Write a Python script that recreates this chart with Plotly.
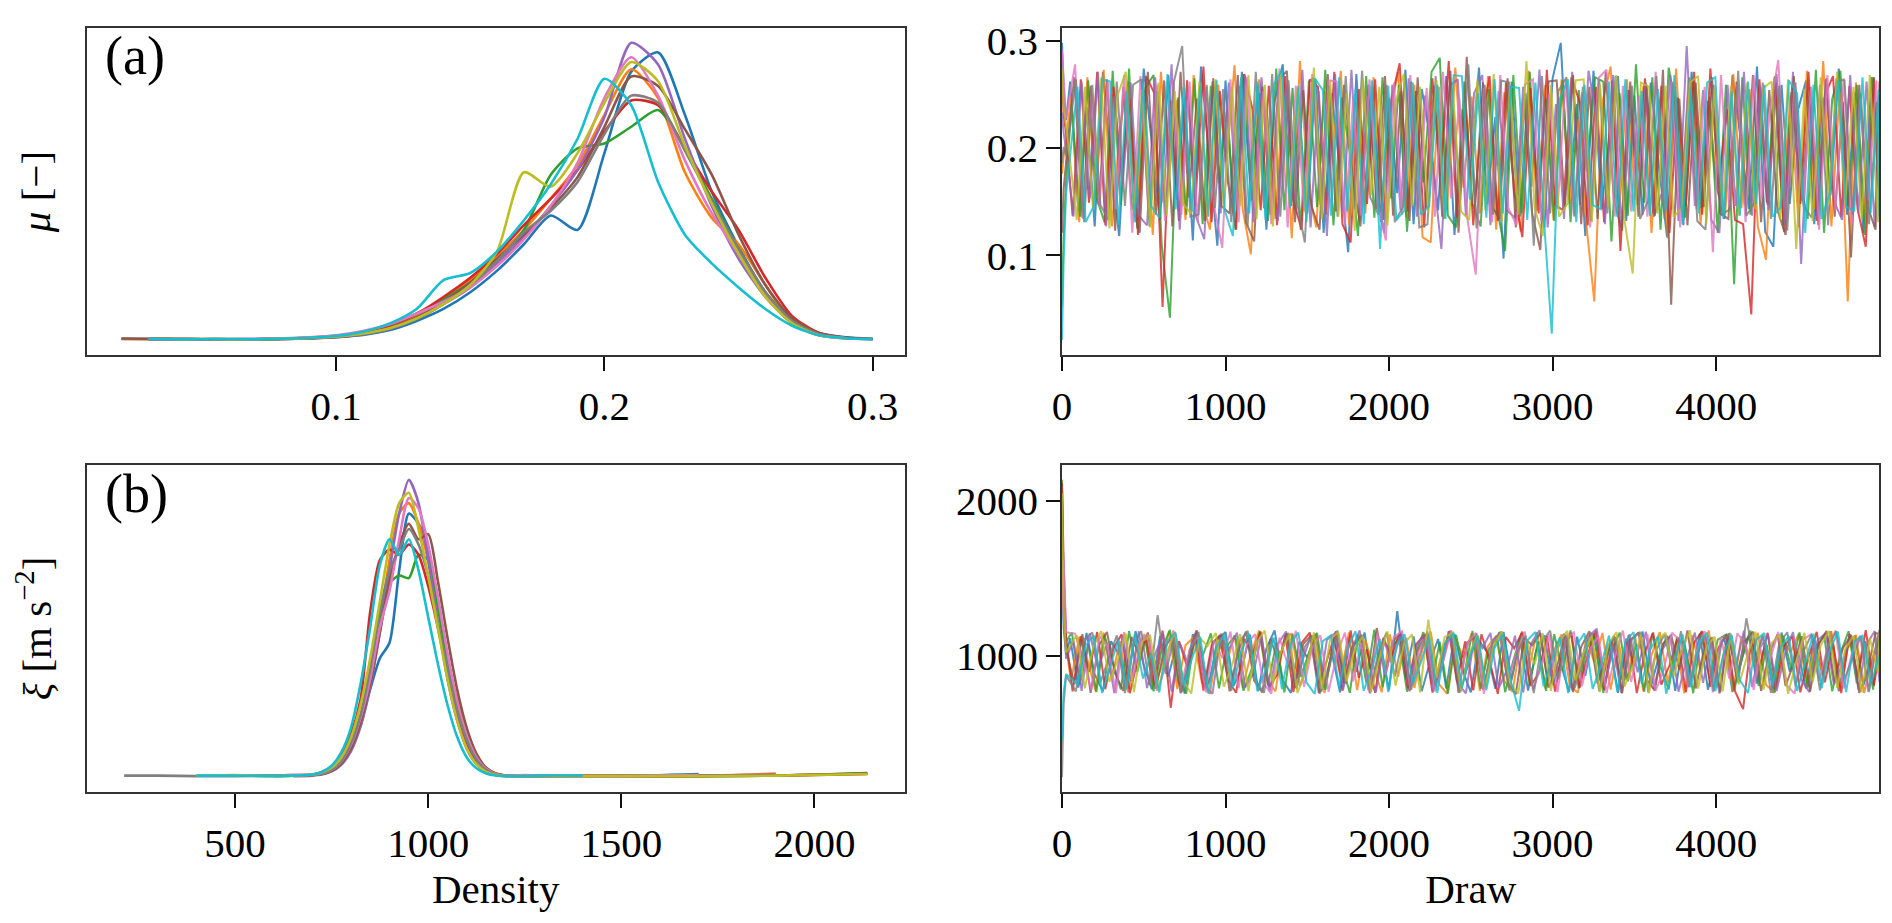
import plotly.graph_objects as go

# tab10 colours, one per chain
colors = ['#1f77b4', '#ff7f0e', '#2ca02c', '#d62728', '#9467bd',
          '#8c564b', '#e377c2', '#7f7f7f', '#bcbd22', '#17becf']

# the thinned read of each chain: draws 0, 10, 25, then every 50th draw
# (each chain read with its own small offset), then the final draw
start_draws = [0, 10, 25]
read_offset = [0, 5, 10, 15, 20, 25, 30, 35, 40, 45]
last_draw = 4999


def chain_draws(off):
    return start_draws + list(range(50 + off, 5000, 50))[:99] + [last_draw]


# ---- mu traces ----
mu_c0 = [.298, .255, .226,
         .262, .141, .238, .127, .271, .183, .118, .256, .149, .274,
         .205, .133, .268, .152, .247, .114, .276, .194, .109, .263,
         .137, .271, .168, .259, .124, .243, .278, .146, .232, .139,
         .264, .121, .251, .177, .103, .269, .145, .258, .131, .246,
         .158, .273, .129, .255, .211, .142, .267, .119, .236, .181,
         .275, .148, .229, .097, .262, .136, .254, .171, .126, .265,
         .298, .154, .241, .118, .272, .143, .214, .267, .132, .249,
         .138, .261, .183, .117, .257, .128, .271, .152, .244, .166,
         .134, .268, .209, .143, .276, .122, .108, .259, .148, .235,
         .263, .129, .247, .156, .274, .138, .252, .121, .266, .182]
mu_c1 = [.176, .192, .207,
         .248, .131, .266, .152, .273, .127, .219, .262, .139, .254,
         .119, .271, .174, .245, .133, .268, .151, .124, .259, .187,
         .277, .143, .101, .264, .228, .134, .258, .116, .281, .162,
         .126, .253, .197, .272, .128, .244, .139, .266, .148, .231,
         .271, .135, .259, .117, .112, .257, .142, .275, .163, .248,
         .139, .267, .124, .252, .179, .122, .272, .141, .259, .133,
         .264, .148, .227, .131, .057, .243, .276, .137, .264, .152,
         .258, .121, .246, .116, .274, .153, .262, .129, .238, .171,
         .138, .269, .144, .255, .127, .096, .266, .149, .249, .126,
         .272, .143, .281, .127, .253, .057, .261, .138, .245, .159]
mu_c2 = [.052, .118, .169,
         .241, .136, .263, .154, .131, .272, .147, .274, .125, .256,
         .268, .109, .042, .247, .138, .265, .129, .258, .167, .236,
         .124, .269, .151, .251, .132, .274, .142, .256, .124, .263,
         .145, .273, .128, .247, .195, .118, .267, .135, .266, .153,
         .259, .122, .241, .168, .271, .284, .137, .126, .262, .148,
         .127, .255, .143, .104, .268, .139, .271, .156, .246, .132,
         .263, .131, .254, .178, .266, .262, .113, .251, .137, .278,
         .149, .266, .124, .275, .232, .135, .263, .144, .248, .121,
         .259, .073, .266, .138, .257, .149, .267, .128, .252, .171,
         .134, .273, .121, .246, .272, .143, .259, .119, .266, .147]
mu_c3 = [.265, .231, .214,
         .137, .264, .149, .271, .128, .257, .173, .246, .119, .267,
         .251, .052, .244, .132, .263, .146, .276, .131, .253, .168,
         .124, .269, .236, .142, .258, .128, .267, .151, .124, .264,
         .257, .138, .271, .129, .112, .255, .148, .264, .133, .246,
         .279, .141, .253, .126, .265, .174, .281, .135, .248, .128,
         .224, .267, .132, .261, .158, .117, .256, .139, .273, .147,
         .142, .266, .243, .128, .257, .131, .263, .104, .254, .172,
         .265, .139, .258, .121, .247, .146, .271, .138, .274, .163,
         .236, .133, .129, .045, .264, .147, .261, .122, .259, .148,
         .271, .132, .249, .267, .136, .258, .143, .108, .266, .154]
mu_c4 = [.233, .214, .198,
         .136, .262, .153, .271, .127, .248, .164, .261, .137, .128,
         .266, .149, .278, .124, .253, .136, .115, .262, .139, .261,
         .148, .267, .131, .266, .174, .132, .257, .142, .273, .126,
         .253, .118, .269, .141, .273, .132, .254, .166, .121, .259,
         .142, .265, .136, .249, .179, .106, .258, .264, .137, .251,
         .268, .128, .253, .142, .135, .257, .164, .273, .126, .241,
         .134, .271, .147, .272, .228, .129, .268, .125, .253, .147,
         .261, .136, .159, .268, .132, .295, .146, .254, .133, .121,
         .259, .146, .271, .137, .257, .142, .269, .128, .271, .092,
         .249, .134, .264, .151, .133, .268, .139, .262, .126, .247]
mu_c5 = [.121, .162, .187,
         .266, .135, .258, .147, .264, .123, .257, .149, .121, .271,
         .138, .263, .127, .271, .154, .246, .132, .265, .146, .139,
         .268, .131, .113, .257, .138, .263, .272, .131, .254, .146,
         .124, .269, .141, .259, .173, .127, .259, .143, .267, .137,
         .253, .132, .266, .144, .258, .136, .272, .121, .285, .146,
         .261, .147, .134, .265, .126, .248, .139, .105, .262, .263,
         .145, .268, .129, .257, .134, .271, .151, .123, .262, .136,
         .259, .137, .273, .054, .246, .128, .261, .145, .266, .139,
         .134, .262, .147, .268, .131, .254, .142, .119, .267, .151,
         .257, .128, .265, .136, .243, .098, .259, .146, .124, .262]
mu_c6 = [.291, .262, .228,
         .278, .134, .249, .146, .262, .143, .268, .121, .267, .136,
         .259, .132, .263, .138, .262, .131, .257, .146, .107, .264,
         .131, .266, .145, .253, .129, .274, .126, .258, .141, .269,
         .147, .263, .262, .128, .245, .137, .264, .149, .114, .261,
         .138, .268, .143, .256, .136, .271, .153, .246, .133, .082,
         .256, .131, .268, .144, .128, .259, .264, .132, .251, .143,
         .264, .137, .252, .126, .265, .273, .136, .258, .141, .249,
         .136, .271, .148, .262, .126, .263, .143, .257, .103, .268,
         .145, .259, .131, .268, .153, .236, .282, .134, .261, .149,
         .257, .124, .268, .142, .265, .129, .246, .151, .263, .134]
mu_c7 = [.186, .201, .193,
         .264, .131, .259, .147, .133, .262, .146, .259, .264, .127,
         .253, .138, .262, .295, .136, .138, .259, .144, .255, .131,
         .258, .127, .271, .144, .269, .136, .263, .151, .112, .266,
         .139, .258, .136, .267, .143, .272, .154, .138, .259, .131,
         .145, .262, .126, .129, .267, .134, .254, .151, .278, .125,
         .259, .138, .263, .261, .148, .251, .109, .267, .139, .253,
         .266, .136, .257, .132, .264, .139, .267, .143, .258, .134,
         .151, .267, .134, .261, .143, .266, .132, .124, .259, .138,
         .143, .272, .137, .149, .261, .134, .258, .123, .261, .146,
         .135, .259, .128, .264, .263, .138, .251, .129, .243, .142]
mu_c8 = [.274, .238, .221,
         .133, .257, .142, .266, .125, .249, .271, .138, .254, .126,
         .261, .137, .253, .148, .139, .262, .136, .264, .143, .257,
         .146, .268, .134, .259, .127, .271, .148, .256, .139, .275,
         .134, .263, .136, .251, .123, .264, .156, .257, .128, .243,
         .269, .146, .257, .139, .263, .135, .256, .141, .133, .264,
         .142, .269, .131, .256, .138, .281, .144, .118, .259, .136,
         .148, .263, .264, .131, .259, .145, .268, .132, .083, .261,
         .257, .139, .258, .136, .144, .261, .267, .129, .255, .146,
         .258, .137, .261, .143, .256, .262, .133, .264, .106, .255,
         .132, .266, .148, .271, .149, .257, .133, .268, .131, .245]
mu_c9 = [.021, .095, .158,
         .257, .131, .146, .264, .262, .128, .253, .131, .261, .146,
         .135, .269, .143, .257, .141, .258, .136, .263, .142, .118,
         .266, .139, .262, .133, .259, .273, .144, .258, .131, .265,
         .254, .137, .266, .141, .255, .129, .263, .106, .258, .133,
         .142, .261, .138, .146, .259, .134, .268, .267, .152, .251,
         .135, .264, .139, .257, .256, .133, .261, .138, .027, .246,
         .264, .131, .259, .147, .143, .262, .136, .264, .141, .253,
         .137, .255, .142, .268, .129, .256, .139, .261, .266, .134,
         .253, .137, .262, .148, .259, .136, .145, .263, .251, .121,
         .259, .134, .158, .263, .145, .142, .266, .139, .254, .136]

# ---- xi traces ----
xi_c0 = [1670, 1180, 1010,
         1112, 793, 1146, 878, 768, 1093, 1004, 812, 1158, 936,
         781, 1127, 862, 1071, 754, 1138, 967, 823, 1101, 1152,
         806, 921, 1134, 772, 1047, 1163, 839, 758, 1089, 983,
         1141, 797, 1016, 762, 1119, 894, 1150, 817, 1062, 776,
         1287, 853, 1124, 769, 958, 1107, 788, 1139, 904, 761,
         1097, 1022, 784, 1153, 846, 1114, 773, 1036, 1131, 812,
         947, 766, 1122, 869, 1148, 795, 1073, 758, 1109, 931,
         1156, 802, 989, 1128, 771, 1094, 851, 1142, 779, 1008,
         1117, 764, 943, 1135, 818, 1081, 757, 1149, 896, 1026,
         786, 1112, 874, 1158, 769, 1047, 1129, 807, 961, 1103]
xi_c1 = [1920, 1320, 1060,
         834, 1121, 976, 771, 1148, 859, 1093, 762, 1034, 1139,
         798, 912, 1157, 783, 1066, 1118, 827, 752, 1103, 946,
         1131, 789, 1011, 1162, 843, 768, 1087, 1144, 801, 973,
         1126, 757, 1052, 879, 1149, 776, 1098, 928, 762, 1137,
         863, 1115, 791, 1043, 1154, 815, 752, 1109, 987, 1143,
         772, 1061, 1128, 836, 764, 1096, 918, 1151, 787, 1029,
         1136, 806, 759, 1118, 955, 1146, 779, 1074, 841, 1121,
         768, 1003, 1152, 823, 1089, 756, 1131, 897, 1162, 792,
         1058, 774, 1125, 938, 1147, 811, 762, 1106, 1019, 1141,
         799, 1083, 866, 1157, 773, 1047, 1133, 758, 981, 1124]
xi_c2 = [2137, 1450, 1090,
         1149, 812, 1073, 764, 1131, 955, 781, 1158, 893, 1107,
         769, 1042, 1166, 831, 754, 1122, 997, 1143, 788, 1064,
         1129, 772, 914, 1155, 806, 1081, 761, 1139, 862, 1018,
         1147, 778, 1097, 943, 759, 1136, 827, 1168, 795, 1053,
         1112, 766, 1001, 1151, 819, 1088, 753, 1134, 879, 1159,
         784, 1039, 1124, 763, 968, 1145, 809, 1092, 772, 1138,
         901, 1163, 787, 1057, 1127, 758, 1019, 1149, 834, 1076,
         767, 1142, 925, 781, 1118, 1061, 756, 1154, 849, 1103,
         1135, 776, 989, 1161, 803, 1069, 762, 1128, 912, 1150,
         793, 1046, 1132, 768, 1014, 1157, 821, 1095, 779, 1168]
xi_c3 = [2120, 1600, 1120,
         768, 1126, 894, 1152, 783, 1049, 1137, 756, 982, 1118,
         811, 1161, 662, 1094, 928, 1143, 773, 1067, 1129, 842,
         759, 1108, 1011, 1155, 796, 874, 1137, 764, 1081, 1149,
         818, 952, 1123, 771, 1162, 856, 1039, 758, 1114, 995,
         1147, 786, 1072, 1133, 761, 907, 1158, 829, 1091, 774,
         1138, 963, 752, 1119, 1046, 1154, 803, 884, 1127, 767,
         1063, 1145, 791, 1006, 1161, 776, 1098, 839, 1132, 757,
         1024, 1149, 812, 937, 1116, 763, 1084, 1158, 798, 1052,
         1136, 771, 653, 1103, 919, 1147, 784, 1059, 1125, 762,
         988, 1153, 826, 1078, 757, 1139, 871, 1164, 806, 1031]
xi_c4 = [1950, 1260, 980,
         1096, 771, 1143, 918, 1061, 757, 1128, 834, 1157, 789,
         1012, 1139, 766, 1084, 947, 1161, 813, 752, 1117, 1039,
         1148, 794, 882, 1133, 769, 1073, 1156, 826, 965, 1121,
         758, 1102, 1145, 781, 1027, 1163, 847, 763, 1094, 936,
         1152, 801, 1068, 1137, 772, 994, 1159, 819, 756, 1111,
         1048, 1146, 788, 903, 1129, 761, 1082, 1164, 838, 1017,
         1141, 775, 953, 1124, 1174, 804, 1063, 759, 1138, 891,
         1155, 782, 1036, 1119, 766, 977, 1148, 823, 1091, 753,
         1132, 927, 1160, 796, 1054, 1127, 771, 1008, 1151, 845,
         763, 1099, 1144, 812, 942, 1137, 779, 1072, 1158, 827]
xi_c5 = [2110, 1380, 1040,
         817, 1138, 759, 1064, 1152, 883, 772, 1121, 996, 1149,
         786, 1043, 1133, 756, 931, 1162, 809, 1087, 1140, 768,
         1019, 1155, 837, 762, 1106, 958, 1144, 791, 1075, 1131,
         753, 889, 1158, 824, 1052, 1127, 776, 1178, 863, 1096,
         1148, 769, 1028, 1139, 801, 941, 1161, 758, 1083, 1122,
         779, 1005, 1152, 832, 749, 1114, 1067, 1145, 793, 916,
         1136, 764, 1058, 1157, 819, 982, 1128, 755, 1101, 1149,
         845, 773, 1076, 1134, 907, 1163, 787, 1033, 1118, 761,
         1141, 858, 1092, 1154, 771, 1014, 1137, 803, 951, 1125,
         766, 1069, 1159, 828, 1047, 1132, 759, 897, 1146, 1139]
xi_c6 = [1300, 1620, 1150,
         1142, 967, 779, 1125, 1058, 757, 1151, 842, 1088, 1136,
         772, 915, 1163, 806, 1039, 1128, 761, 1097, 984, 1154,
         789, 1071, 1139, 824, 753, 1116, 942, 1160, 798, 1052,
         1131, 766, 1005, 1148, 833, 1084, 759, 1143, 876, 1121,
         1157, 781, 1026, 1134, 768, 959, 1162, 815, 1079, 1146,
         752, 1093, 1128, 849, 1017, 1155, 776, 933, 1137, 764,
         1108, 1150, 801, 1045, 1124, 758, 988, 1161, 829, 1072,
         1139, 771, 908, 1147, 1095, 794, 1031, 1158, 762, 1119,
         853, 1144, 1067, 778, 1126, 974, 1153, 809, 754, 1102,
         1136, 836, 1049, 1161, 787, 1013, 1129, 767, 1084, 1148]
xi_c7 = [213, 690, 870,
         768, 1103, 1149, 826, 974, 1131, 757, 1067, 1158, 809,
         1261, 882, 1124, 763, 1046, 1152, 791, 936, 1138, 772,
         1091, 1160, 838, 759, 1113, 1009, 1146, 784, 1057, 1127,
         766, 921, 1163, 817, 1082, 1134, 755, 1031, 1149, 864,
         1119, 778, 996, 1157, 802, 1071, 1132, 761, 948, 1143,
         823, 1098, 1155, 774, 1024, 1128, 757, 1087, 1161, 846,
         1136, 789, 967, 1148, 768, 1059, 1121, 812, 1104, 1153,
         762, 1038, 1137, 881, 1158, 796, 1015, 1125, 770, 1093,
         1144, 827, 1241, 956, 1132, 759, 1076, 1151, 803, 1029,
         1139, 775, 1062, 1157, 848, 987, 1126, 764, 1109, 1158]
xi_c8 = [2050, 1290, 1020,
         1131, 788, 1052, 1158, 829, 966, 1142, 763, 1091, 1127,
         777, 1013, 1155, 842, 754, 1118, 1061, 1146, 798, 937,
         1139, 769, 1084, 1161, 815, 1027, 1133, 758, 897, 1149,
         784, 1106, 1152, 833, 1041, 1124, 766, 979, 1157, 806,
         1072, 1137, 761, 1233, 855, 1119, 1149, 776, 1008, 1130,
         793, 1063, 1156, 821, 754, 1102, 943, 1144, 772, 1087,
         1160, 839, 1019, 1128, 763, 1074, 1151, 801, 925, 1136,
         757, 1095, 1148, 867, 1035, 1162, 786, 1058, 1123, 768,
         1141, 814, 996, 1154, 779, 1081, 1135, 752, 962, 1147,
         825, 1066, 1159, 791, 1043, 1127, 761, 1112, 889, 1147]
xi_c9 = [450, 760, 880,
         812, 1067, 1128, 758, 936, 1104, 779, 1139, 851, 1012,
         761, 1096, 1147, 806, 983, 1121, 754, 1058, 1135, 794,
         1027, 1142, 768, 907, 1116, 783, 1071, 1149, 826, 752,
         1093, 1131, 797, 1045, 1157, 772, 918, 1108, 763, 1064,
         1138, 815, 957, 1123, 759, 1082, 1146, 789, 1003, 1127,
         776, 1049, 1139, 831, 642, 1097, 1152, 801, 974, 1118,
         757, 1066, 1143, 784, 928, 1129, 766, 1089, 1151, 818,
         1036, 1124, 753, 961, 1137, 795, 1078, 1148, 769, 1011,
         1132, 842, 758, 1101, 1145, 807, 1054, 1126, 771, 949,
         1141, 788, 1032, 1155, 763, 1092, 1128, 816, 984, 974]

# ---- per-chain density curves (left panels) ----
mu_grid = [0.02, 0.03, 0.04, 0.05, 0.06, 0.07, 0.08, 0.09, 0.10, 0.11,
           0.12, 0.13, 0.14, 0.15, 0.16, 0.17, 0.18, 0.19, 0.20, 0.21,
           0.22, 0.23, 0.24, 0.25, 0.26, 0.27, 0.28, 0.29, 0.30]
mu_d0 = [.05, .05, .04, .04, .03, .05, .06, .09, .13, .22, .42, .8, 1.3, 2.0, 2.9,
         4.0, 5.2, 4.6, 7.8, 11.2, 12.0, 9.4, 6.2, 3.9, 2.0, .8, .3, .12, .06]
mu_d1 = [.06, .04, .05, .03, .04, .04, .05, .08, .14, .28, .55, 1.0, 1.7, 2.5, 3.5,
         4.6, 5.9, 7.3, 9.4, 11.3, 10.1, 7.0, 5.1, 4.0, 2.3, .7, .2, .08, .05]
mu_d2 = [None, .06, .05, .05, .04, .04, .06, .1, .16, .3, .6, 1.1, 1.7, 2.4, 3.3,
         4.6, 6.9, 8.0, 8.2, 8.9, 9.6, 8.0, 5.9, 3.8, 2.0, .8, .25, .1, None]
mu_d3 = [None, .04, .05, .04, .05, .04, .07, .11, .18, .33, .62, 1.1, 1.8, 2.6, 3.6,
         4.8, 5.9, 7.1, 8.7, 10.0, 9.8, 8.0, 6.2, 4.6, 2.6, 1.0, .3, .1, None]
mu_d4 = [None, None, .04, .04, .03, .04, .05, .08, .12, .24, .47, .9, 1.5, 2.2, 3.2,
         4.3, 5.6, 7.1, 9.3, 12.4, 11.5, 8.4, 5.6, 3.4, 1.8, .7, .22, .08, .04]
mu_d5 = [.07, .06, .05, .04, .04, .04, .05, .07, .13, .26, .52, .95, 1.6, 2.4, 3.4,
         4.4, 5.5, 6.8, 8.9, 11.0, 10.6, 8.8, 6.9, 4.4, 2.3, .9, .28, .1, .05]
mu_d6 = [None, .05, .04, .05, .04, .06, .08, .12, .2, .38, .66, 1.1, 1.6, 2.2, 3.1,
         4.2, 5.6, 7.4, 10.1, 11.8, 10.2, 7.5, 5.3, 3.6, 1.9, .7, .2, .07, None]
mu_d7 = [None, .04, .04, .04, .03, .04, .05, .08, .13, .25, .48, .88, 1.5, 2.3, 3.3,
         4.5, 5.4, 6.6, 8.6, 10.2, 9.9, 7.9, 5.8, 3.8, 2.0, .8, .25, .09, None]
mu_d8 = [None, None, .04, .05, .04, .04, .06, .09, .15, .28, .5, .9, 1.5, 2.3, 3.7,
         7.0, 6.4, 7.8, 9.9, 11.6, 10.8, 8.1, 5.7, 3.6, 1.8, .7, .2, .08, None]
mu_d9 = [None, .05, .04, .04, .05, .04, .06, .1, .17, .35, .7, 1.3, 2.5, 2.8, 3.7,
         5.0, 6.5, 8.4, 10.9, 9.8, 6.6, 4.4, 3.2, 2.2, 1.3, .6, .2, .08, .04]

xi_grid = [213, 300, 400, 500, 600, 650, 700, 725, 750, 775, 800, 825,
           850, 875, 900, 925, 950, 975, 1000, 1025, 1050, 1075, 1100,
           1125, 1150, 1175, 1200, 1250, 1300, 1400, 1500, 1700, 1900, 2137]
xi_d0 = [None, None, None, None, None, .03, .04, .06, .12, .25, .52, 1.0, 1.7, 2.3, 2.6, 4.0, 5.1,
         4.9, 4.4, 3.4, 2.3, 1.4, .78, .36, .15, .06, .03, .02, .03, .03, .02, .06, None, None]
xi_d1 = [None, None, None, None, .03, .03, .04, .07, .15, .33, .66, 1.2, 2.0, 3.0, 4.2, 5.1, 5.3,
         4.9, 4.2, 3.3, 2.3, 1.5, .9, .45, .18, .07, .03, .02, .02, .03, .02, .02, .07, None]
xi_d2 = [None, None, None, None, .02, .03, .04, .06, .13, .3, .62, 1.15, 1.95, 3.0, 3.75, 3.9, 3.85,
         4.3, 4.2, 3.3, 2.2, 1.3, .7, .32, .13, .05, .03, .02, .02, .02, .03, .02, .03, .08]
xi_d3 = [None, None, None, None, .03, .04, .05, .1, .2, .42, .82, 1.5, 3.2, 4.2, 4.4, 4.3, 4.5,
         4.3, 3.7, 2.9, 2.0, 1.2, .62, .28, .11, .04, .03, .02, .02, .02, .02, .03, .03, .06]
xi_d4 = [None, None, None, None, None, .02, .03, .05, .11, .24, .5, .98, 1.75, 2.8, 4.0, 5.1, 5.75,
         5.3, 4.2, 3.0, 1.9, 1.1, .55, .25, .1, .04, .02, .03, .02, .02, .02, .03, .05, None]
xi_d5 = [None, None, None, .03, .03, .03, .04, .06, .12, .26, .55, 1.05, 1.8, 2.8, 3.8, 4.5, 4.9,
         4.6, 4.7, 3.8, 2.7, 1.7, .95, .45, .18, .07, .03, .02, .03, .02, .02, .02, .03, .07]
xi_d6 = [None, None, None, None, .03, .04, .05, .07, .14, .3, .62, 1.15, 1.9, 2.9, 3.6, 4.6, 5.4,
         5.2, 4.5, 3.5, 2.4, 1.45, .8, .38, .16, .06, .03, .04, .03, .02, .02, .04, None, None]
xi_d7 = [.03, .03, .02, .02, .03, .03, .04, .07, .14, .31, .65, 1.2, 2.1, 3.2, 4.0, 4.4, 4.8,
         4.5, 3.9, 3.0, 2.1, 1.3, .72, .34, .14, .05, .03, .02, .03, None, None, None, None, None]
xi_d8 = [None, None, .03, .04, .02, .03, .05, .09, .18, .38, .76, 1.4, 2.3, 3.4, 4.5, 5.3, 5.5,
         4.8, 3.9, 2.9, 1.9, 1.1, .56, .25, .1, .04, .02, .02, .02, .02, .02, .02, .03, .06]
xi_d9 = [None, None, .03, .03, .02, .03, .05, .1, .22, .48, .95, 1.8, 2.9, 4.1, 4.6, 4.3, 4.6,
         4.0, 3.1, 2.2, 1.4, .78, .38, .17, .07, .03, .02, .02, .03, .03, None, None, None, None]

mu_chains = [mu_c0, mu_c1, mu_c2, mu_c3, mu_c4, mu_c5, mu_c6, mu_c7, mu_c8, mu_c9]
xi_chains = [xi_c0, xi_c1, xi_c2, xi_c3, xi_c4, xi_c5, xi_c6, xi_c7, xi_c8, xi_c9]
mu_dens = [mu_d0, mu_d1, mu_d2, mu_d3, mu_d4, mu_d5, mu_d6, mu_d7, mu_d8, mu_d9]
xi_dens = [xi_d0, xi_d1, xi_d2, xi_d3, xi_d4, xi_d5, xi_d6, xi_d7, xi_d8, xi_d9]

FONT = 'Liberation Serif'

fig = go.Figure()
for i in range(10):
    c = colors[i]
    dr = chain_draws(read_offset[i])
    fig.add_trace(go.Scatter(x=mu_grid, y=mu_dens[i], mode='lines', xaxis='x', yaxis='y',
                             line=dict(color=c, width=2.6, shape='spline', smoothing=0.7)))
    fig.add_trace(go.Scatter(x=dr, y=mu_chains[i], mode='lines', xaxis='x2', yaxis='y2',
                             line=dict(color=c, width=2.0), opacity=0.8))
    fig.add_trace(go.Scatter(x=xi_grid, y=xi_dens[i], mode='lines', xaxis='x3', yaxis='y3',
                             line=dict(color=c, width=2.6, shape='spline', smoothing=0.7)))
    fig.add_trace(go.Scatter(x=dr, y=xi_chains[i], mode='lines', xaxis='x4', yaxis='y4',
                             line=dict(color=c, width=2.0), opacity=0.8))


def padded(vals, frac=0.05):
    v = [x for x in vals if x is not None]
    lo, hi = min(v), max(v)
    p = (hi - lo) * frac
    return [lo - p, hi + p]


mu_rng = padded([v for ch in mu_chains for v in ch])
xi_rng = padded([v for ch in xi_chains for v in ch])
mu_top = max(v for d in mu_dens for v in d if v is not None)
xi_top = max(v for d in xi_dens for v in d if v is not None)

base = dict(showline=True, mirror=True, linecolor='#333', linewidth=1.6,
            ticks='outside', ticklen=14, tickwidth=2.4, tickcolor='#111',
            showgrid=False, zeroline=False, tickfont=dict(size=41, family=FONT, color='black'))
noy = dict(showline=True, mirror=True, linecolor='#333', linewidth=1.6,
           ticks='', showticklabels=False, showgrid=False, zeroline=False)

xl = [0.04175, 0.47384]
xr = [0.55708, 0.98916]
yt = [0.62405, 0.97833]
yb = [0.15060, 0.50488]

fig.update_layout(
    width=1892, height=923,
    margin=dict(l=0, r=0, t=0, b=0),
    paper_bgcolor='white', plot_bgcolor='white',
    showlegend=False,
    font=dict(family=FONT, color='black', size=41),
    xaxis=dict(base, domain=xl, anchor='y', range=mu_rng, tickvals=[0.1, 0.2, 0.3]),
    yaxis=dict(noy, domain=yt, anchor='x', range=[-0.05 * mu_top, 1.05 * mu_top],
               title=dict(text='<i>μ</i> [−]', standoff=22, font=dict(size=41))),
    xaxis2=dict(base, domain=xr, anchor='y2', range=[0, last_draw], tickvals=[0, 1000, 2000, 3000, 4000]),
    yaxis2=dict(base, domain=yt, anchor='x2', range=mu_rng, tickvals=[0.1, 0.2, 0.3]),
    xaxis3=dict(base, domain=xl, anchor='y3', range=xi_rng, tickvals=[500, 1000, 1500, 2000],
                title=dict(text='Density', standoff=5, font=dict(size=41))),
    yaxis3=dict(noy, domain=yb, anchor='x3', range=[-0.05 * xi_top, 1.05 * xi_top],
                title=dict(text='<i>ξ</i> [m s<sup>−2</sup>]', standoff=22, font=dict(size=41))),
    xaxis4=dict(base, domain=xr, anchor='y4', range=[0, last_draw], tickvals=[0, 1000, 2000, 3000, 4000],
                title=dict(text='Draw', standoff=5, font=dict(size=41))),
    yaxis4=dict(base, domain=yb, anchor='x4', range=xi_rng, tickvals=[1000, 2000]),
)
for ax in ['xaxis', 'xaxis2', 'xaxis3', 'xaxis4', 'yaxis', 'yaxis2', 'yaxis3', 'yaxis4']:
    fig.layout[ax].automargin = False

fig.update_traces(hoverinfo='skip')

fig.add_annotation(text='(a)', xref='x domain', yref='y domain', x=0.02, y=0.915,
                   xanchor='left', yanchor='middle', showarrow=False, font=dict(size=54))
fig.add_annotation(text='(b)', xref='x3 domain', yref='y3 domain', x=0.02, y=0.91,
                   xanchor='left', yanchor='middle', showarrow=False, font=dict(size=54))

fig.write_html("out.html")
